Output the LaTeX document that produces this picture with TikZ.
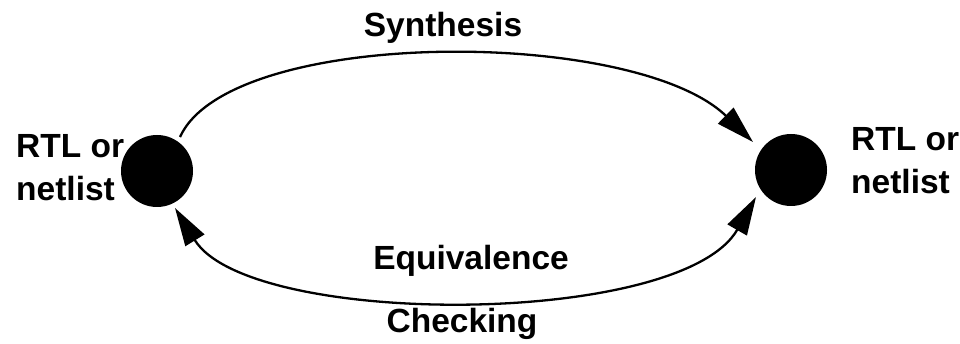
\documentclass[tikz,border=0pt]{standalone}
\usepackage{fontspec}
\setmainfont{Liberation Sans}
\usetikzlibrary{arrows.meta}
\begin{document}
\begin{tikzpicture}[x=1pt, y=-1pt,
  >={Triangle[length=38pt, width=22pt]},
  every node/.style={font=\fontsize{33.5}{43}\selectfont\bfseries, inner sep=0pt},
  dot/.style={circle, fill=black, minimum size=72pt},
  flow/.style={line width=2.3pt}]
  \useasboundingbox (0,0) rectangle (960,344);

  \node[dot] (src) at (157,171) {};
  \node[dot] (dst) at (791,170) {};

  \coordinate (synS) at ([shift={(23,-34)}]src.center);
  \coordinate (synE) at ([shift={(-38,-28)}]dst.center);
  \coordinate (eqS)  at ([shift={(18,37)}]src.center);
  \coordinate (eqE)  at ([shift={(-35,27)}]dst.center);

  \draw[flow, ->] (synS) .. controls +(50,-110) and +(-119,-115) .. (synE);
  \draw[flow, <->] (eqS) .. controls +(74,120) and +(-75,131) .. (eqE);

  \node[anchor=base] (syn) at (443,37)  {Synthesis};
  \node[anchor=base] (eqv) at (471,270) {Equivalence};
  \node[anchor=base] (chk) at (462,332) {Checking};
  \node[anchor=north west, align=left] (srcl) at (16,134)  {RTL or\\netlist};
  \node[anchor=north west, align=left] (dstl) at (851,127) {RTL or\\netlist};
\end{tikzpicture}
\end{document}
